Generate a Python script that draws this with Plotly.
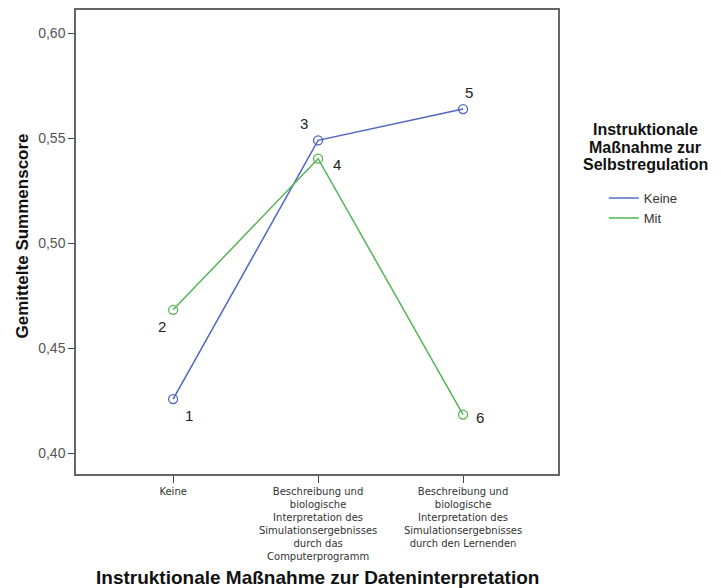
import plotly.graph_objects as go

categories = [
    "Keine",
    "Beschreibung und<br>biologische<br>Interpretation des<br>Simulationsergebnisses<br>durch das<br>Computerprogramm",
    "Beschreibung und<br>biologische<br>Interpretation des<br>Simulationsergebnisses<br>durch den Lernenden",
]
series_names = ["Keine", "Mit"]
keine_values = [0.4257, 0.5489, 0.5638]
mit_values = [0.4682, 0.5402, 0.4183]
keine_labels = ["1", "3", "5"]
mit_labels = ["2", "4", "6"]
y_ticks = [0.40, 0.45, 0.50, 0.55, 0.60]
x_title = "Instruktionale Maßnahme zur Dateninterpretation"
y_title = "Gemittelte Summenscore"
legend_title_lines = ["Instruktionale", "Maßnahme zur", "Selbstregulation"]

BLUE = "#4f66bf"
GREEN = "#55b455"
LEG_BLUE = "#7f92d4"
LEG_GREEN = "#7cc67c"
FONT = "Liberation Sans, Arial, sans-serif"

xi = list(range(len(categories)))

fig = go.Figure()
for vals, col in [(keine_values, BLUE), (mit_values, GREEN)]:
    fig.add_trace(go.Scatter(
        x=xi, y=vals, mode="lines+markers", showlegend=False,
        line=dict(color=col, width=1.5),
        marker=dict(symbol="circle-open", size=9, color=col, line=dict(width=1.3)),
    ))
# legend entries (line only, as in the reference)
for name, col in zip(series_names, [LEG_BLUE, LEG_GREEN]):
    fig.add_trace(go.Scatter(
        x=[None], y=[None], mode="lines", name=name,
        line=dict(color=col, width=2),
    ))

keine_offsets = [(16, -16), (-14, 17), (6, 17)]
mit_offsets = [(-11, -17), (19, -6), (17, -3)]
for i, (v, lab) in enumerate(zip(keine_values, keine_labels)):
    fig.add_annotation(x=xi[i], y=v, text=lab, showarrow=False,
                       xshift=keine_offsets[i][0], yshift=keine_offsets[i][1],
                       font=dict(family=FONT, size=15, color="#222"))
for i, (v, lab) in enumerate(zip(mit_values, mit_labels)):
    fig.add_annotation(x=xi[i], y=v, text=lab, showarrow=False,
                       xshift=mit_offsets[i][0], yshift=mit_offsets[i][1],
                       font=dict(family=FONT, size=15, color="#222"))

# axis titles
fig.add_annotation(xref="paper", yref="paper", x=0.5, y=-0.222,
                   xanchor="center", yanchor="middle", showarrow=False,
                   text="<b>" + x_title + "</b>",
                   font=dict(family=FONT, size=19, color="#111"))
fig.add_annotation(xref="paper", yref="paper", x=-0.111, y=0.513,
                   xanchor="center", yanchor="middle", showarrow=False,
                   textangle=-90, text="<b>" + y_title + "</b>",
                   font=dict(family=FONT, size=17, color="#111"))
# legend title lines
for line, yp in zip(legend_title_lines, [0.7435, 0.7047, 0.668]):
    fig.add_annotation(xref="paper", yref="paper", x=1.1805, y=yp,
                       xanchor="center", yanchor="middle", showarrow=False,
                       text="<b>" + line + "</b>",
                       font=dict(family=FONT, size=16, color="#111"))

fig.update_layout(
    width=713, height=580,
    margin=dict(l=68, r=163, t=2, b=114),
    paper_bgcolor="white", plot_bgcolor="white",
    separators=",.",
    font=dict(family=FONT, color="#333"),
    showlegend=True,
    legend=dict(
        x=1.095, y=0.627, xanchor="left", yanchor="top",
        font=dict(family=FONT, size=13, color="#333"),
        itemwidth=30, tracegroupgap=0, bgcolor="rgba(0,0,0,0)",
    ),
    xaxis=dict(
        range=[-0.67, 2.655], automargin=False,
        tickvals=xi, ticktext=categories,
        tickfont=dict(family="DejaVu Sans, sans-serif", size=10, color="#333"),
        showgrid=False, zeroline=False,
        showline=True, linecolor="#666", linewidth=1.5, mirror=True,
        ticks="outside", ticklen=7, tickcolor="#444", tickwidth=1,
    ),
    yaxis=dict(
        range=[0.39, 0.611], automargin=False,
        tickvals=y_ticks, tickformat=".2f",
        tickfont=dict(family=FONT, size=14, color="#555"),
        showgrid=False, zeroline=False,
        showline=True, linecolor="#666", linewidth=1.5, mirror=True,
        ticks="outside", ticklen=6, tickcolor="#444", tickwidth=1,
    ),
)

fig.write_html("out.html")
